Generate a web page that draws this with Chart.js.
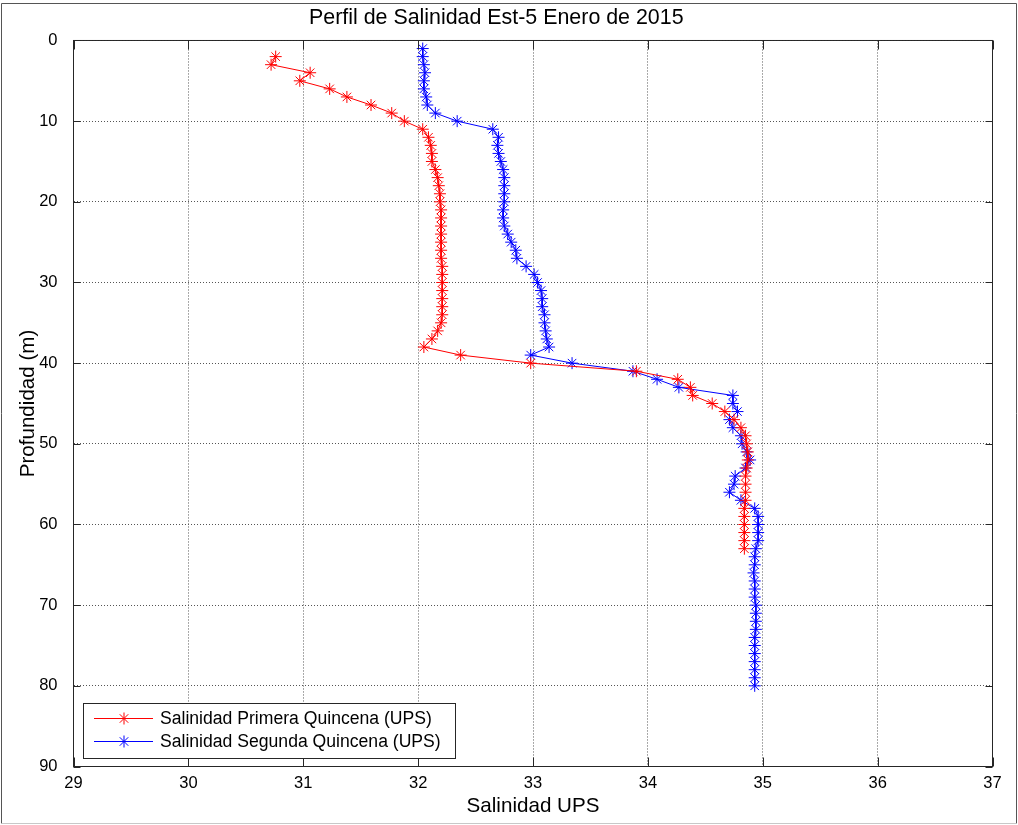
<!DOCTYPE html>
<html>
<head>
<meta charset="utf-8">
<title>Perfil de Salinidad Est-5 Enero de 2015</title>
<script src="https://cdn.jsdelivr.net/npm/chart.js@4/dist/chart.umd.min.js"></script>
<style>
  html, body { margin: 0; padding: 0; background: #fff; }
  canvas { display: block; }
</style>
</head>
<body>
<canvas id="perfil" width="1018" height="825"></canvas>
<script>
// Primera quincena: profundidad (m) y salinidad (UPS)
var profPrimera = [2, 3, 4, 5, 6, 7, 8, 9, 10, 11, 12, 13, 14, 15, 16, 17, 18, 19, 20, 21,
    22, 23, 24, 25, 26, 27, 28, 29, 30, 31, 32, 33, 34, 35, 36, 37, 38, 39, 40, 41,
    42, 43, 44, 45, 46, 47, 48, 49, 50, 51, 52, 53, 54, 55, 56, 57, 58, 59, 60, 61,
    62, 63];
var salPrimera = [30.76, 30.72, 31.06, 30.97, 31.23, 31.38, 31.59, 31.77, 31.88, 32.04,
    32.09, 32.11, 32.12, 32.12, 32.15, 32.17, 32.18, 32.19, 32.19, 32.20,
    32.20, 32.20, 32.20, 32.20, 32.20, 32.20, 32.21, 32.21, 32.21, 32.21,
    32.21, 32.21, 32.21, 32.20, 32.17, 32.12, 32.05, 32.37, 32.98, 33.90,
    34.26, 34.37, 34.39, 34.56, 34.67, 34.75, 34.81, 34.85, 34.86, 34.87,
    34.87, 34.86, 34.85, 34.85, 34.85, 34.85, 34.84, 34.84, 34.84, 34.84,
    34.84, 34.84];

// Segunda quincena
var profSegunda = [1, 2, 3, 4, 5, 6, 7, 8, 9, 10, 11, 12, 13, 14, 15, 16, 17, 18, 19, 20,
    21, 22, 23, 24, 25, 26, 27, 28, 29, 30, 31, 32, 33, 34, 35, 36, 37, 38, 39, 40,
    41, 42, 43, 44, 45, 46, 47, 48, 49, 50, 51, 52, 53, 54, 55, 56, 57, 58, 59, 60,
    61, 62, 63, 64, 65, 66, 67, 68, 69, 70, 71, 72, 73, 74, 75, 76, 77, 78, 79, 80];
var salSegunda = [32.04, 32.04, 32.05, 32.06, 32.05, 32.05, 32.07, 32.08, 32.15, 32.34,
    32.65, 32.70, 32.69, 32.70, 32.72, 32.74, 32.75, 32.75, 32.75, 32.75,
    32.74, 32.74, 32.75, 32.78, 32.81, 32.85, 32.86, 32.94, 33.01, 33.04,
    33.07, 33.08, 33.08, 33.10, 33.10, 33.11, 33.12, 33.14, 32.98, 33.34,
    33.87, 34.08, 34.27, 34.74, 34.74, 34.78, 34.71, 34.74, 34.81, 34.82,
    34.86, 34.89, 34.85, 34.76, 34.75, 34.71, 34.81, 34.93, 34.96, 34.96,
    34.96, 34.96, 34.94, 34.93, 34.93, 34.92, 34.93, 34.93, 34.93, 34.94,
    34.94, 34.94, 34.94, 34.93, 34.93, 34.93, 34.93, 34.93, 34.93, 34.93];

var etiquetas = ["Salinidad Primera Quincena (UPS)", "Salinidad Segunda Quincena (UPS)"];
var colores = ["#ff0000", "#0000ff"];

var fuente = "'Liberation Sans', Arial, Helvetica, sans-serif";

function puntos(sal, prof) {
    return sal.map(function(s, i) { return {x: s, y: prof[i]}; });
}

function estrella(ctx, x, y, r) {
    var d = r * Math.SQRT1_2;
    ctx.beginPath();
    ctx.moveTo(x - r, y); ctx.lineTo(x + r, y);
    ctx.moveTo(x, y - r); ctx.lineTo(x, y + r);
    ctx.moveTo(x - d, y - d); ctx.lineTo(x + d, y + d);
    ctx.moveTo(x - d, y + d); ctx.lineTo(x + d, y - d);
    ctx.stroke();
}

// caja de ejes estilo MATLAB con marcas hacia dentro
var marco = {
    id: 'marco',
    beforeDraw: function(chart) {
        var ctx = chart.ctx;
        ctx.save();
        ctx.fillStyle = '#fff';
        ctx.fillRect(0, 0, chart.width, chart.height);
        ctx.lineWidth = 1;
        ctx.strokeStyle = '#555';
        ctx.beginPath();
        ctx.moveTo(1.5, 823.5); ctx.lineTo(1.5, 3.5); ctx.lineTo(1016.5, 3.5); ctx.lineTo(1016.5, 823.5);
        ctx.stroke();
        ctx.strokeStyle = '#c8c8c8';
        ctx.beginPath();
        ctx.moveTo(1.5, 823.5); ctx.lineTo(1016.5, 823.5);
        ctx.stroke();
        ctx.restore();
    },
    afterDatasetsDraw: function(chart) {
        var ctx = chart.ctx, a = chart.chartArea;
        var sx = chart.scales.x, sy = chart.scales.y;
        ctx.save();
        ctx.lineWidth = 1;
        ctx.strokeStyle = '#262626';
        ctx.strokeRect(a.left, a.top, a.right - a.left, a.bottom - a.top);
        ctx.beginPath();
        sx.ticks.forEach(function(t) {
            var px = Math.round(sx.getPixelForValue(t.value)) + 0.5;
            ctx.moveTo(px, a.bottom); ctx.lineTo(px, a.bottom - 9);
            ctx.moveTo(px, a.top); ctx.lineTo(px, a.top + 9);
        });
        sy.ticks.forEach(function(t) {
            var py = Math.round(sy.getPixelForValue(t.value)) + 0.5;
            ctx.moveTo(a.left, py); ctx.lineTo(a.left + 7, py);
            ctx.moveTo(a.right, py); ctx.lineTo(a.right - 7, py);
        });
        ctx.stroke();
        ctx.restore();
    },
    afterDraw: function(chart) {
        // leyenda dentro del area, abajo a la izquierda
        var ctx = chart.ctx;
        ctx.save();
        ctx.fillStyle = '#fff';
        ctx.fillRect(83.5, 703.5, 372, 55);
        ctx.lineWidth = 1;
        ctx.strokeStyle = '#262626';
        ctx.strokeRect(83.5, 703.5, 372, 55);
        chart.data.datasets.forEach(function(ds, i) {
            var cy = 718.5 + i * 23;
            ctx.strokeStyle = ds.borderColor;
            ctx.beginPath();
            ctx.moveTo(94, cy); ctx.lineTo(153, cy);
            ctx.stroke();
            estrella(ctx, 124, cy, 6);
            ctx.fillStyle = '#000';
            ctx.font = '17.6px ' + fuente;
            ctx.textBaseline = 'middle';
            ctx.textAlign = 'left';
            ctx.fillText(ds.label, 160, cy + 1);
        });
        ctx.restore();
    }
};

var perfil = document.getElementById("perfil").getContext("2d");
new Chart(perfil, {
    type: 'scatter',
    data: {
        datasets: [{
            label: etiquetas[0],
            data: puntos(salPrimera, profPrimera),
            borderColor: colores[0],
            backgroundColor: colores[0],
            showLine: true,
            borderWidth: 1,
            pointStyle: 'star',
            pointRadius: 6,
            pointBorderWidth: 1
        }, {
            label: etiquetas[1],
            data: puntos(salSegunda, profSegunda),
            borderColor: colores[1],
            backgroundColor: colores[1],
            showLine: true,
            borderWidth: 1,
            pointStyle: 'star',
            pointRadius: 6,
            pointBorderWidth: 1
        }]
    },
    options: {
        responsive: false,
        animation: false,
        events: [],
        layout: { padding: { left: 0, right: 25.5, top: 0, bottom: 0 } },
        plugins: {
            legend: { display: false },
            tooltip: { enabled: false },
            title: {
                display: true,
                text: 'Perfil de Salinidad Est-5 Enero de 2015',
                color: '#000',
                font: { family: fuente, size: 21.4, weight: 'normal', lineHeight: 1.2 },
                padding: { top: 5.6, bottom: 9.2 }
            }
        },
        scales: {
            x: {
                type: 'linear',
                position: 'bottom',
                min: 29,
                max: 37,
                afterFit: function(s) { s.height = 58.5; },
                ticks: { stepSize: 1, color: '#000', padding: 7, font: { family: fuente, size: 16.5 } },
                grid: { color: '#555', drawTicks: false, lineWidth: 1 },
                border: { display: false, dash: [1, 2] },
                title: {
                    display: true,
                    text: 'Salinidad UPS',
                    color: '#000',
                    font: { family: fuente, size: 20.6, lineHeight: 1.2 },
                    padding: { top: 0, bottom: 6.6 }
                }
            },
            y: {
                type: 'linear',
                position: 'left',
                reverse: true,
                min: 0,
                max: 90,
                afterFit: function(s) { s.width = 73.5; },
                ticks: { stepSize: 10, color: '#000', padding: 16, font: { family: fuente, size: 16.5 } },
                grid: { color: '#555', drawTicks: false, lineWidth: 1 },
                border: { display: false, dash: [1, 2] },
                title: {
                    display: true,
                    text: 'Profundidad (m)',
                    color: '#000',
                    font: { family: fuente, size: 20.6, lineHeight: 1.2 },
                    padding: { top: 15.6, bottom: 0 }
                }
            }
        }
    },
    plugins: [marco]
});
</script>
</body>
</html>
